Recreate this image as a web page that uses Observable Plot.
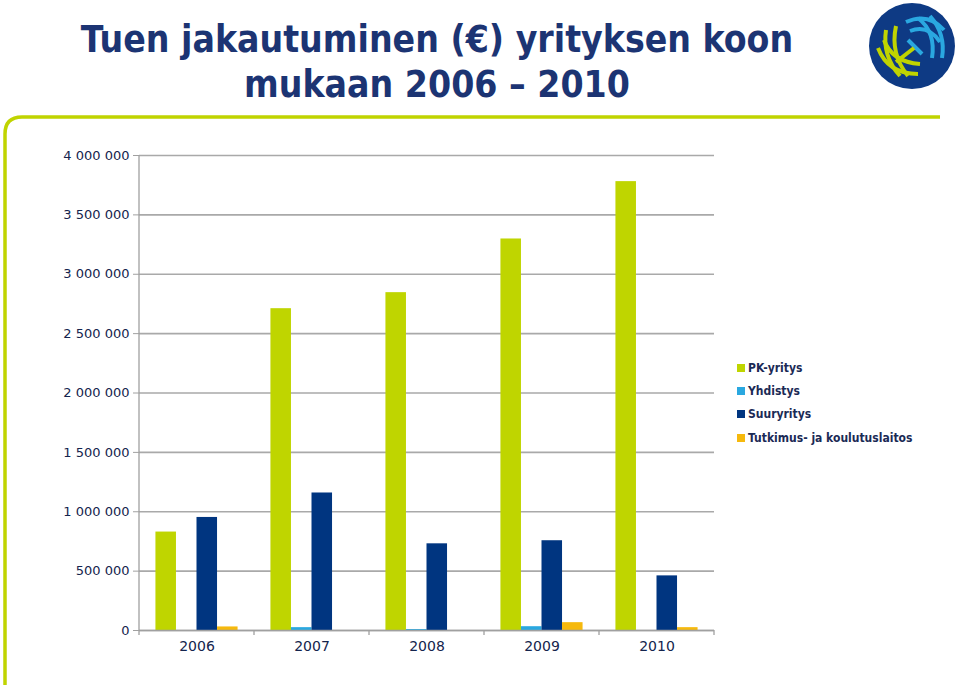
<!DOCTYPE html>
<html>
<head>
<meta charset="utf-8">
<script src="https://cdn.jsdelivr.net/npm/d3@7"></script>
<script src="https://cdn.jsdelivr.net/npm/@observablehq/plot@0.6"></script>
<style>
  html, body { margin: 0; padding: 0; background: #fff; }
  #page { position: relative; width: 960px; height: 685px; overflow: hidden; font-family: "DejaVu Sans", sans-serif; }
  #title { position: absolute; left: 0; top: 17px; width: 874px; text-align: center;
    font-family: "DejaVu Sans Condensed", "DejaVu Sans", sans-serif; font-weight: bold;
    font-size: 37px; line-height: 45px; color: #1c3473; }
  #deco { position: absolute; left: 0; top: 0; }
  #logo { position: absolute; left: 866px; top: 0px; }
  #chart { position: absolute; left: 0; top: 130px; }
  #legend { position: absolute; left: 737px; top: 356px; font-family: "DejaVu Sans Condensed", "DejaVu Sans", sans-serif;
    font-weight: bold; font-size: 12px; color: #1b2a55; }
  .row { height: 23.3px; display: flex; align-items: center; }
  .sw { width: 8px; height: 8px; margin-right: 3px; }
</style>
</head>
<body>
<div id="page">
  <svg id="deco" width="960" height="685">
    <path d="M940,117 L22,117 Q5,117 5,134 L5,685" fill="none" stroke="#c0d400" stroke-width="3.5"/>
  </svg>
  <div id="title">Tuen jakautuminen (€) yrityksen koon<br>mukaan 2006 – 2010</div>
  <svg id="logo" width="92" height="92" viewBox="0 0 92 92">
    <circle cx="46" cy="46" r="43" fill="#0e3a84"/>
    <g fill="none" stroke="#2aa8e0" stroke-width="4">
      <path d="M40,22 Q62,12 78,30"/>
      <path d="M44,31 Q62,24 74,42"/>
      <path d="M52,18 Q70,32 66,58"/>
      <path d="M64,16 Q80,34 76,58"/>
      <path d="M42,40 L56,54"/>
    </g>
    <g fill="none" stroke="#c0d400" stroke-width="4">
      <path d="M12,48 Q22,74 52,74"/>
      <path d="M18,40 Q26,62 54,64"/>
      <path d="M20,30 Q16,56 34,76"/>
      <path d="M30,26 Q24,54 42,76"/>
      <path d="M30,62 L48,48"/>
    </g>
  </svg>
  <div id="chart"></div>
  <div id="legend"></div>
</div>
<script>
const years = ["2006", "2007", "2008", "2009", "2010"];
const series = ["PK-yritys", "Yhdistys", "Suuryritys", "Tutkimus- ja koulutuslaitos"];
const colors = ["#bfd500", "#2aa8e0", "#003580", "#f6b90d"];
const pkYritys = [829000, 2710000, 2845000, 3297000, 3780000];
const yhdistys = [0, 24000, 8000, 32000, 0];
const suuryritys = [952000, 1158000, 730000, 756000, 460000];
const tutkimus = [30000, 0, 0, 66000, 24000];
const yTicks = [0, 500000, 1000000, 1500000, 2000000, 2500000, 3000000, 3500000, 4000000];

const valuesBySeries = [pkYritys, yhdistys, suuryritys, tutkimus];
const data = [];
years.forEach((yr, i) => series.forEach((s, j) => data.push({year: yr, series: s, value: valuesBySeries[j][i]})));

const fmt = d => d3.format(",")(d).replace(/,/g, " ");

const plot = Plot.plot({
  width: 730,
  height: 530,
  marginLeft: 137,
  marginRight: 14,
  marginTop: 25,
  marginBottom: 30,
  style: {fontFamily: "DejaVu Sans, sans-serif", fontSize: "13px", color: "#14244d", background: "transparent"},
  fx: {domain: years, padding: 0, label: null},
  x: {domain: series, paddingInner: 0, paddingOuter: 0.8, round: false, axis: null},
  y: {domain: [0, 4000000], label: null},
  color: {domain: series, range: colors},
  marks: [
    Plot.gridY(yTicks, {stroke: "#a9a9a9", strokeOpacity: 1, strokeWidth: 1.6}),
    Plot.axisY(yTicks, {tickFormat: fmt, tickSize: 6, tickPadding: 4, stroke: "#a0a0a0", label: null, fontSize: 13}),
    Plot.barY(data, {fx: "year", x: "series", y: "value", fill: "series"}),
    Plot.ruleY([0], {stroke: "#a0a0a0", strokeWidth: 1.6}),
    Plot.axisFx({anchor: "bottom", tickSize: 0, tickPadding: 11, fontSize: 14, label: null})
  ]
});

// y-axis line and category boundary ticks, positioned with the plot's own scales
const fxS = plot.scale("fx");
const yS = plot.scale("y");
const g = d3.select(plot).append("g").attr("stroke", "#a0a0a0").attr("stroke-width", 1.3);
const x0 = fxS.apply(years[0]);
g.append("line").attr("x1", x0).attr("x2", x0).attr("y1", yS.apply(4000000)).attr("y2", yS.apply(0));
const bounds = years.map(yv => fxS.apply(yv)).concat([fxS.apply(years[years.length - 1]) + fxS.bandwidth]);
bounds.forEach(b => g.append("line").attr("x1", b).attr("x2", b).attr("y1", yS.apply(0)).attr("y2", yS.apply(0) + 5));

document.getElementById("chart").appendChild(plot);

const legend = d3.select("#legend");
series.forEach((s, i) => {
  const row = legend.append("div").attr("class", "row");
  row.append("div").attr("class", "sw").style("background", colors[i]);
  row.append("span").text(s);
});
</script>
</body>
</html>
